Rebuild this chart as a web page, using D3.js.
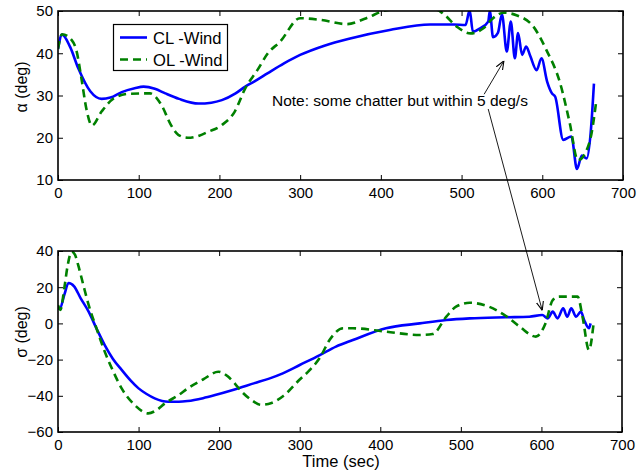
<!DOCTYPE html>
<html>
<head>
<meta charset="utf-8">
<script src="https://cdn.jsdelivr.net/npm/d3@7"></script>
<style>
  body { margin: 0; background: #fff; }
  text { font-family: "Liberation Sans", Arial, sans-serif; }
</style>
</head>
<body>
<svg id="chart" width="641" height="473"></svg>
<script>
// Angle of attack, closed loop
const tAlphaCL = [0, 5, 15, 25, 40, 54, 65, 79, 95, 106, 120, 133, 150, 174, 190, 203, 220, 232, 244, 260, 280, 300, 330, 362, 411, 461, 490, 505,
    510, 514, 523, 533, 535, 539, 545, 550, 556, 561, 566, 570, 575, 580, 585, 593, 599, 606, 612, 616, 626, 636, 643, 649, 655, 660, 664];
const alphaCL = [41, 44.4, 41.5, 36.5, 31, 29.2, 29.5, 30.8, 31.7, 32.1, 31.6, 30.5, 29.2, 28.1, 28.3, 28.9, 30.5, 32.1, 33.4, 35.3, 37.6, 39.6, 41.8, 43.5, 45.5, 46.8, 46.8, 46.7,
    50.2, 45.1, 45.9, 47.5, 50, 43.8, 44.8, 49.2, 40.4, 47.5, 38.8, 44.8, 39.6, 41.6, 39.4, 36, 38.8, 33.3, 30.5, 29.7, 19.5, 20.3, 12.6, 15.8, 15.1, 21.3, 32.8];

// Angle of attack, open loop
const tAlphaOL = [0, 5, 17, 23, 29, 35, 42, 54, 69, 87, 114, 128, 140, 149, 161, 175, 186, 203, 219, 232, 247, 260, 275, 300, 325, 358, 382, 407, 430, 469, 477,
    494, 511, 527, 539, 552, 568, 589, 605, 622, 634, 644, 655, 661, 667];
const alphaOL = [41, 44.5, 43.1, 40.5, 34.1, 27, 22.9, 26.2, 29.3, 30.4, 30.5, 27.8, 23, 20.7, 20, 20.5, 21.4, 23, 26.2, 31.7, 36, 40, 42.7, 48.3, 47.9, 46.9, 48.3, 50.2, 50.5, 50.3, 49.4,
    46.3, 44.7, 45.9, 48.3, 49.6, 49, 46.3, 40.8, 33, 23.5, 14.7, 17.1, 21, 28.9];

// Bank angle, closed loop
const tSigmaCL = [0, 2, 8, 13, 20, 28, 38, 48, 58, 68, 79, 90, 100, 110, 120, 137, 150, 161, 180, 195, 217, 244, 262, 279, 300, 325, 345, 366, 407, 449, 482, 511, 556, 585,
    601, 608, 614, 620, 627, 632, 637, 643, 649, 653, 659, 661];
const sigmaCL = [8.3, 8, 16, 22.3, 20.5, 14, 6.5, -3, -12, -19.5, -25.7, -31.5, -35.9, -39, -41.4, -43.3, -43.3, -42.9, -41.3, -39.6, -36.8, -33, -30.5, -27.6, -23, -17.5, -12.8, -9.2, -2.7, 0, 1.9, 2.8, 3.4, 3.7,
    4.6, 2.8, 6.5, 2.8, 8.3, 3.7, 8.3, 3.7, 6.5, 1.9, -2.7, 0];

// Bank angle, open loop
const tSigmaOL = [0, 3, 8, 12, 17, 21, 25, 31, 38, 48, 58, 68, 79, 95, 112, 122, 133, 150, 161, 180, 199, 205, 211, 220, 228, 240, 252, 265, 280, 300, 312, 325, 337, 354, 366, 407,
    449, 465, 482, 494, 511, 535, 556, 573, 593, 605, 614, 622, 645, 651, 659, 665];
const sigmaOL = [10, 7.5, 20, 32, 39.6, 38, 32.3, 22, 10.2, -3, -15.6, -26, -35.9, -45, -49.7, -48, -44.1, -39.5, -35.9, -31, -26.7, -27.5, -29.4, -33.5, -37.7, -42.3, -45, -44, -40, -31, -26, -19, -9.2, -2.7, -2.7, -4.6,
    -6.4, -5.9, 3.7, 9.2, 11.4, 9.2, 4.1, -1.8, -7.3, 0, 12.9, 14.8, 14.8, 3.7, -14.7, 1];

const xTicks = [0, 100, 200, 300, 400, 500, 600, 700];
const alphaTicks = [10, 20, 30, 40, 50];
const sigmaTicks = [-60, -40, -20, 0, 20, 40];
const legendLabels = ["CL -Wind", "OL -Wind"];
const noteText = "Note: some chatter but within 5 deg/s";

const svg = d3.select("#chart");
const fontSize = 15;

function zip(t, v) {
    return t.map((d, i) => [d, v[i]]);
}

// Draw one panel
function drawPanel(id, box, yDomain, yTicks, series, ylabel, ylabelY) {
    const x = d3.scaleLinear().domain([0, 700]).range([box.x0, box.x1]);
    const y = d3.scaleLinear().domain(yDomain).range([box.y1, box.y0]);

    svg.append("clipPath").attr("id", id)
        .append("rect")
        .attr("x", box.x0).attr("y", box.y0)
        .attr("width", box.x1 - box.x0).attr("height", box.y1 - box.y0);

    const line = d3.line()
        .x((d) => x(d[0]))
        .y((d) => y(d[1]))
        .curve(d3.curveMonotoneX);

    for (const s of series) {
        svg.append("path")
            .attr("clip-path", `url(#${id})`)
            .attr("d", line(s.data))
            .attr("fill", "none")
            .attr("stroke", s.color)
            .attr("stroke-width", 2.6)
            .attr("stroke-dasharray", s.dash || null)
            .attr("stroke-linejoin", "round");
    }

    // Axes, ticks pointing inward
    const gb = svg.append("g")
        .attr("transform", `translate(0,${box.y1})`)
        .call(d3.axisBottom(x).tickValues(xTicks).tickSize(-5).tickPadding(7));
    const gt = svg.append("g")
        .attr("transform", `translate(0,${box.y0})`)
        .call(d3.axisTop(x).tickValues(xTicks).tickSize(-5).tickFormat(""));
    const gl = svg.append("g")
        .attr("transform", `translate(${box.x0},0)`)
        .call(d3.axisLeft(y).tickValues(yTicks).tickSize(-5).tickPadding(5));
    const gr = svg.append("g")
        .attr("transform", `translate(${box.x1},0)`)
        .call(d3.axisRight(y).tickValues(yTicks).tickSize(-5).tickFormat(""));

    for (const g of [gb, gt, gl, gr]) {
        g.select(".domain").remove();
        g.selectAll("line").attr("stroke", "#000").attr("stroke-width", 1);
        g.selectAll("text")
            .attr("font-size", fontSize)
            .attr("font-family", "Liberation Sans, Arial, sans-serif")
            .attr("fill", "#000");
    }

    svg.append("rect")
        .attr("x", box.x0).attr("y", box.y0)
        .attr("width", box.x1 - box.x0).attr("height", box.y1 - box.y0)
        .attr("fill", "none")
        .attr("stroke", "#000")
        .attr("stroke-width", 1.6);

    svg.append("text")
        .attr("transform", `translate(${box.x0 - 31},${ylabelY}) rotate(-90)`)
        .attr("text-anchor", "middle")
        .attr("font-size", 16)
        .text(ylabel);

    return { x, y };
}

const top1 = drawPanel("clipA", { x0: 58, x1: 623, y0: 11, y1: 180 }, [10, 50], alphaTicks, [
    { data: zip(tAlphaCL, alphaCL), color: "#0000ff" },
    { data: zip(tAlphaOL, alphaOL), color: "#008000", dash: "8,5" },
], "α (deg)", 87);

const bot = drawPanel("clipB", { x0: 58, x1: 622, y0: 251, y1: 432 }, [-60, 40], sigmaTicks, [
    { data: zip(tSigmaCL, sigmaCL), color: "#0000ff" },
    { data: zip(tSigmaOL, sigmaOL), color: "#008000", dash: "8,5" },
], "σ (deg)", 332);

svg.append("text")
    .attr("x", 341).attr("y", 467)
    .attr("text-anchor", "middle")
    .attr("font-size", 16.5)
    .text("Time (sec)");

// Legend
const lg = svg.append("g");
lg.append("rect")
    .attr("x", 113.5).attr("y", 24.5).attr("width", 114).attr("height", 46)
    .attr("fill", "#fff").attr("stroke", "#000").attr("stroke-width", 1.2);
legendLabels.forEach((lab, i) => {
    const yy = 37.5 + i * 22;
    lg.append("line")
        .attr("x1", 120).attr("x2", 147).attr("y1", yy).attr("y2", yy)
        .attr("stroke", i == 0 ? "#0000ff" : "#008000")
        .attr("stroke-width", 2.6)
        .attr("stroke-dasharray", i == 0 ? null : "8,5");
    lg.append("text")
        .attr("x", 153).attr("y", yy + 6)
        .attr("font-size", 16.6)
        .text(lab);
});

// Annotation with two arrows
svg.append("text")
    .attr("x", 272).attr("y", 105.5)
    .attr("font-size", 15.5)
    .text(noteText);

const defs = svg.append("defs");
defs.append("marker")
    .attr("id", "arrow")
    .attr("viewBox", "0 0 10 10")
    .attr("refX", 10).attr("refY", 5)
    .attr("markerWidth", 9).attr("markerHeight", 9)
    .attr("markerUnits", "userSpaceOnUse")
    .attr("orient", "auto")
    .append("path")
    .attr("d", "M0,1 L10,5 L0,9")
    .attr("fill", "none")
    .attr("stroke", "#000")
    .attr("stroke-width", 1.2);

// arrow 1: to alpha chatter, arrow 2: to sigma chatter
svg.append("line")
    .attr("x1", top1.x(528)).attr("y1", top1.y(30.3))
    .attr("x2", top1.x(552.5)).attr("y2", top1.y(38.2))
    .attr("stroke", "#000").attr("stroke-width", 0.9)
    .attr("marker-end", "url(#arrow)");
svg.append("line")
    .attr("x1", top1.x(533)).attr("y1", top1.y(26.8))
    .attr("x2", bot.x(601)).attr("y2", bot.y(7.2))
    .attr("stroke", "#000").attr("stroke-width", 0.9)
    .attr("marker-end", "url(#arrow)");
</script>
</body>
</html>
